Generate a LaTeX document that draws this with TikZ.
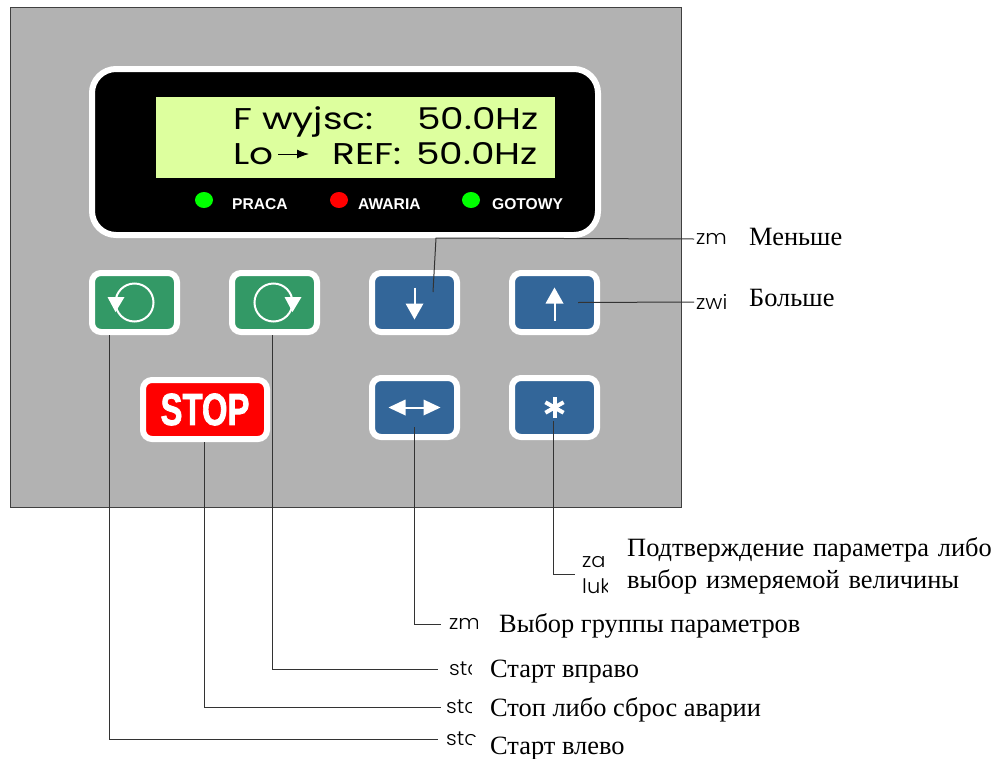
\documentclass[tikz,border=0pt]{standalone}
\usepackage{fontspec}
\setmainfont{Liberation Serif}
\newfontfamily\gothic[FakeStretch=1.25]{Poppins}
\newfontfamily\gothicsmall[FakeStretch=1.05,UprightFont=* Light]{Poppins}
\newfontfamily\arial{Liberation Sans}
\newfontfamily\stopfont[FakeBold=2]{Liberation Sans Bold}
\usetikzlibrary{arrows.meta,shapes.geometric}
\tikzset{
  panel/.style    = { draw=black!75, line width=1pt, fill=black!30 },
  keybtn/.style   = { draw=white, line width=6pt, rounded corners=9pt, minimum width=85pt, minimum height=59pt, inner sep=0pt },
  startkey/.style = { keybtn, fill=startgreen },
  menukey/.style  = { keybtn, fill=menublue },
  led/.style      = { ellipse, minimum width=18pt, minimum height=16pt, inner sep=0pt, fill=#1 },
  ledtext/.style  = { anchor=base west, inner sep=0pt, text=white, font=\arial\bfseries\fontsize{15.6}{15.6}\selectfont },
  lcdtext/.style  = { anchor=base west, inner sep=0pt, font=\gothic\fontsize{30}{30}\selectfont },
  icon/.style     = { draw=white, line width=2pt },
  iconhead/.style = { fill=white },
  lead/.style     = { draw=black!80, line width=1pt },
  clipped/.style  = { anchor=west, inner sep=0pt, font=\gothicsmall\fontsize{20}{20}\selectfont },
  rustext/.style  = { anchor=base west, inner ysep=0pt, inner xsep=#1, fill=white, align=left, font=\fontsize{26.4}{32}\selectfont }
}
\definecolor{startgreen}{HTML}{339966}
\definecolor{menublue}{HTML}{336699}
\definecolor{lcdgreen}{HTML}{DDFF9E}
\begin{document}
\begin{tikzpicture}[x=1pt,y=-1pt]
  \useasboundingbox (0,0) rectangle (999,758);
  % Draw the housing and the display
  \draw[panel] (10,7) rectangle (681,507);
  \node[draw=white, line width=6pt, fill=black, rounded corners=24pt, minimum width=506pt, minimum height=166pt] (display) at (345,152) {};
  \node[fill=lcdgreen, minimum width=399pt, minimum height=81pt, inner sep=0pt] (lcd) at (355.5,137.5) {};
  \node[lcdtext] (lcdF) at (233,129) {F wyjsc:};
  \node[lcdtext] (lcdFval) at (417,129) {50.0Hz};
  \node[lcdtext] (lcdLo) at (233,164) {Lo};
  \node[lcdtext] (lcdRef) at (332,164) {REF:};
  \node[lcdtext] (lcdRval) at (416,164) {50.0Hz};
  \draw[-{Latex[length=12pt,width=9pt]}, line width=1pt] (278,154) -- (309,154);
  % Draw lamps
  \node[led=green] (ledRun) at (204,200) {};
  \node[led=red] (ledFault) at (339,200) {};
  \node[led=green] (ledReady) at (471,200) {};
  \node[ledtext] (txtRun) at (232,209) {PRACA};
  \node[ledtext] (txtFault) at (358,209) {AWARIA};
  \node[ledtext] (txtReady) at (492,209) {GOTOWY};
  % Draw keys
  \node[startkey] (keyLeft) at (134.5,302.5) {};
  \node[startkey] (keyRight) at (274.5,302.5) {};
  \node[menukey] (keyLess) at (414.5,302.5) {};
  \node[menukey] (keyMore) at (554.5,302.5) {};
  \node[menukey] (keyGroup) at (414.5,407.5) {};
  \node[menukey] (keyEnter) at (554.5,407.5) {};
  \node[keybtn, fill=red, minimum width=124pt] (keyStop) at (205,409.5) {\scalebox{.73}[1]{\textcolor{white}{\stopfont\fontsize{45}{45}\selectfont STOP}}};
  % Draw key symbols
  \begin{scope}[shift={(keyLeft.center)}]
    \draw[icon] (0,0) circle (19);
    \fill[iconhead] (-27,-5.5) -- (-10,-5.5) -- (-19,9.5) -- cycle;
  \end{scope}
  \begin{scope}[shift={(keyRight.center)}]
    \draw[icon] (-1,0) circle (19);
    \fill[iconhead] (10,-5.5) -- (27,-5.5) -- (18,9.5) -- cycle;
  \end{scope}
  \begin{scope}[shift={(keyLess.center)}]
    \draw[icon] (0,-15) -- (0,3);
    \fill[iconhead] (-9,1) -- (9,1) -- (0,17) -- cycle;
  \end{scope}
  \begin{scope}[shift={(keyMore.center)}]
    \draw[icon] (0,0) -- (0,18);
    \fill[iconhead] (-9,1) -- (9,1) -- (0,-15) -- cycle;
  \end{scope}
  \begin{scope}[shift={(keyGroup.center)}]
    \draw[icon] (-12,0) -- (12,0);
    \fill[iconhead] (-26,0) -- (-9,-8) -- (-9,8) -- cycle;
    \fill[iconhead] (26,0) -- (9,-8) -- (9,8) -- cycle;
  \end{scope}
  \begin{scope}[shift={(keyEnter.center)}]
    \foreach \a in {90,150,210} \draw[icon, line width=4pt] (\a:10.5) -- (\a+180:10.5);
  \end{scope}
  % Draw labels
  \node[clipped] (lblLess) at (696,239) {zm};
  \node[clipped] (lblMore) at (696,302) {zwi};
  \node[clipped] (lblEnterA) at (582,562) {za};
  \node[clipped] (lblEnterB) at (582,586) {luk};
  \node[clipped] (lblGroup) at (449,624) {zm};
  \node[clipped] (lblStart) at (449,669) {stc};
  \node[clipped] (lblStop) at (446,707) {stc};
  \node[clipped] (lblBack) at (446,739) {stc};
  \node[rustext=21pt] (rusLess) at (728,245) {Меньше};
  \node[rustext=20pt] (rusMore) at (729,306) {Больше};
  \node[rustext=19pt, text width=372pt] (rusEnter) at (608,556) {Подтверждение параметра либо\\выбор измеряемой величины};
  \node[rustext=21pt] (rusGroup) at (478,632) {Выбор группы параметров};
  \node[rustext=18pt] (rusStart) at (472,677) {Старт вправо};
  \node[rustext=18pt] (rusStop) at (472,716) {Стоп либо сброс аварии};
  \node[rustext=18pt] (rusBack) at (472,754) {Старт влево};
  % Draw leader lines
  \draw[lead] ([xshift=18.5pt,yshift=10.5pt]keyLess.center) -- (436,238) -- ([xshift=-2pt]lblLess.west);
  \draw[lead] ([xshift=23.5pt]keyMore.center) -- ([xshift=-2pt]lblMore.west);
  \draw[lead] ([xshift=-1.5pt,yshift=-13.5pt]keyEnter.center) |- (575,574);
  \draw[lead] ([yshift=-19.5pt]keyGroup.center) |- ([xshift=-8pt]lblGroup.west);
  \draw[lead] ([xshift=-2.5pt]keyRight.south) |- ([xshift=-11pt]lblStart.west);
  \draw[lead] ([xshift=-1pt]keyStop.south) |- ([xshift=-5pt]lblStop.west);
  \draw[lead] ([xshift=-25.5pt]keyLeft.south) |- ([xshift=-8pt]lblBack.west);
\end{tikzpicture}
\end{document}
